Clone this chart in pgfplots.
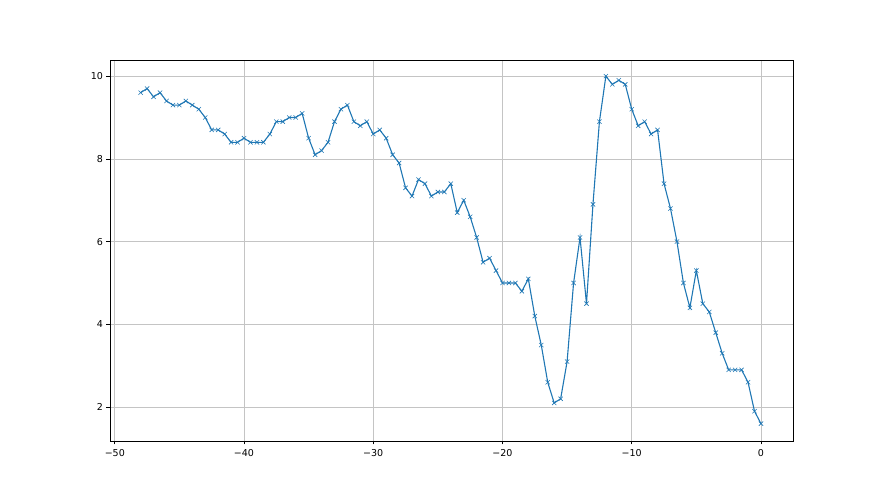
\documentclass[border=0pt]{standalone}
\usepackage{pgfplots}
\pgfplotsset{compat=1.18}
\usepackage{fontspec}
\setmainfont{DejaVu Sans}
\definecolor{mplblue}{HTML}{1F77B4}
\definecolor{gridgray}{HTML}{C4C4C4}
\begin{document}
\begin{tikzpicture}
\path (-110pt,-54pt) rectangle (770pt,441pt);
\begin{axis}[
  at={(0,0)}, anchor=south west,
  scale only axis,
  width=683pt, height=381pt,
  xmin=-50.37, xmax=2.48,
  ymin=1.18, ymax=10.39,
  xtick={-50,-40,-30,-20,-10,0},
  xticklabels={−50,−40,−30,−20,−10,0},
  ytick={2,4,6,8,10},
  yticklabels={2,4,6,8,10},
  grid=major,
  major grid style={draw=gridgray, line width=0.6pt},
  axis line style={line width=0.7pt},
  tick style={black, line width=0.7pt},
  tick align=outside,
  major tick length=3.5pt,
  xtick pos=bottom, ytick pos=left,
  ticklabel style={font=\fontsize{9.5}{11}\selectfont},
  x tick label style={yshift=-1pt},
]
\addplot[mplblue, line width=1.1pt, mark=x, mark size=3pt,
  mark options={line width=0.6pt}] coordinates {
(-48,9.6)(-47.5,9.7)(-47,9.5)(-46.5,9.6)(-46,9.4)(-45.5,9.3)(-45,9.3)(-44.5,9.4)
(-44,9.3)(-43.5,9.2)(-43,9.0)(-42.5,8.7)(-42,8.7)(-41.5,8.6)(-41,8.4)(-40.5,8.4)
(-40,8.5)(-39.5,8.4)(-39,8.4)(-38.5,8.4)(-38,8.6)(-37.5,8.9)(-37,8.9)(-36.5,9.0)
(-36,9.0)(-35.5,9.1)(-35,8.5)(-34.5,8.1)(-34,8.2)(-33.5,8.4)(-33,8.9)(-32.5,9.2)
(-32,9.3)(-31.5,8.9)(-31,8.8)(-30.5,8.9)(-30,8.6)(-29.5,8.7)(-29,8.5)(-28.5,8.1)
(-28,7.9)(-27.5,7.3)(-27,7.1)(-26.5,7.5)(-26,7.4)(-25.5,7.1)(-25,7.2)(-24.5,7.2)
(-24,7.4)(-23.5,6.7)(-23,7.0)(-22.5,6.6)(-22,6.1)(-21.5,5.5)(-21,5.6)(-20.5,5.3)
(-20,5.0)(-19.5,5.0)(-19,5.0)(-18.5,4.8)(-18,5.1)(-17.5,4.2)(-17,3.5)(-16.5,2.6)
(-16,2.1)(-15.5,2.2)(-15,3.1)(-14.5,5.0)(-14,6.1)(-13.5,4.5)(-13,6.9)(-12.5,8.9)
(-12,10.0)(-11.5,9.8)(-11,9.9)(-10.5,9.8)(-10,9.2)(-9.5,8.8)(-9,8.9)(-8.5,8.6)
(-8,8.7)(-7.5,7.4)(-7,6.8)(-6.5,6.0)(-6,5.0)(-5.5,4.4)(-5,5.3)(-4.5,4.5)
(-4,4.3)(-3.5,3.8)(-3,3.3)(-2.5,2.9)(-2,2.9)(-1.5,2.9)(-1,2.6)(-0.5,1.9)
(0,1.6)
};
\end{axis}
\end{tikzpicture}
\end{document}
